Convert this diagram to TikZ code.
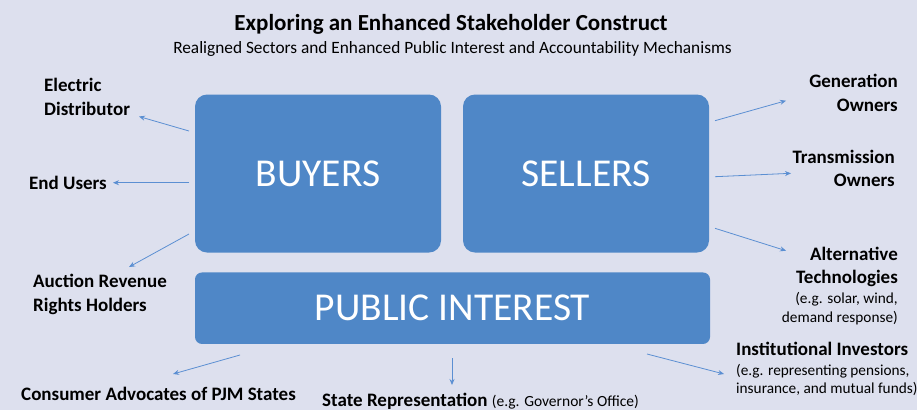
\documentclass[tikz,border=0pt]{standalone}
\usepackage{fontspec}
\setmainfont{Carlito}
\usetikzlibrary{arrows.meta}

\definecolor{bgcol}{HTML}{DDE0EE}
\definecolor{boxcol}{HTML}{4F87C7}
\definecolor{arrcol}{HTML}{5B8FD2}

\tikzset{
    sector/.style={fill=boxcol, text=white, inner sep=0pt, font=\fontsize{39.5}{39.5}\selectfont},
    party/.style={inner sep=0pt, font=\bfseries\fontsize{19}{23.3}\selectfont},
    aside/.style={inner sep=0pt, font=\fontsize{15.3}{19}\selectfont},
    link/.style={draw=arrcol, line width=0.8pt, -{Stealth[length=6pt, width=5pt]}}
}

\begin{document}
\begin{tikzpicture}[x=1pt, y=-1pt]
            \fill[bgcol] (0, 0) rectangle (917, 410);
            \useasboundingbox (0, 0) rectangle (917, 410);
            \node[inner sep=0pt, font=\bfseries\fontsize{23}{23}\selectfont, anchor=base] (title) at (451, 30) {Exploring an Enhanced Stakeholder Construct};
            \node[inner sep=0pt, font=\fontsize{17.3}{17.3}\selectfont, anchor=base] (subtitle) at (452.5, 53) {Realigned Sectors and Enhanced Public Interest and Accountability Mechanisms};
            \node[sector, rounded corners=12pt, minimum width=246, minimum height=158] (buyers) at (318, 173.5) {BUYERS};
            \node[sector, rounded corners=12pt, minimum width=246, minimum height=158] (sellers) at (586, 173.5) {SELLERS};
            \node[sector, rounded corners=7pt, minimum width=515, minimum height=71.5] (public) at (452.5, 308.2) {PUBLIC INTEREST};
            % buyers side (base = last line)
            \node[party, anchor=base west, align=left] (elec) at (44, 115) {Electric\\Distributor};
            \node[party, anchor=base west] (endusers) at (29, 189) {End Users};
            \node[party, anchor=base west, align=left] (auction) at (33, 311) {Auction Revenue\\Rights Holders};
            % sellers side
            \node[party, anchor=base east, align=right] (gen) at (898, 111) {Generation\\Owners};
            \node[party, anchor=base east, align=right] (trans) at (895, 186.5) {Transmission\\Owners};
            \node[party, anchor=base east, align=right] (alt) at (898, 283.5) {Alternative\\Technologies};
            \node[aside, anchor=base east, align=right] (altnote) at (898, 322) {(e.g. solar, wind,\\demand response)};
            % public interest
            \node[party, anchor=base west] (consumer) at (21, 400) {Consumer Advocates of PJM States};
            \node[party, anchor=base west] (state) at (322, 406) {State Representation {\mdseries\fontsize{15.5}{15.5}\selectfont(e.g. Governor’s Office)}};
            \node[party, anchor=base west] (inst) at (736, 355) {Institutional Investors};
            \node[aside, anchor=base west, align=left, font=\fontsize{15.3}{17.5}\selectfont] (instnote) at (736, 393) {(e.g. representing pensions,\\insurance, and mutual funds)};
            % arrows
            \coordinate (b1) at (189, 131);   \coordinate (elecin) at (139, 116.5);
            \coordinate (b2) at (189, 182.7); \coordinate (endin) at (113, 182.7);
            \coordinate (b3) at (189, 234);   \coordinate (aucin) at (129, 267);
            \coordinate (s1) at (715, 120.7); \coordinate (genin) at (786, 100.7);
            \coordinate (s2) at (715, 176.7); \coordinate (transin) at (791, 173.3);
            \coordinate (s3) at (715, 228.3); \coordinate (altin) at (786, 250.7);
            \coordinate (p1) at (240, 355);   \coordinate (conin) at (173, 374);
            \coordinate (p2) at (452, 358);   \coordinate (statein) at (452, 385);
            \coordinate (p3) at (647, 354);   \coordinate (instin) at (724, 374);
            \draw[link] (b1) -- (elecin);
            \draw[link] (b2) -- (endin);
            \draw[link] (b3) -- (aucin);
            \draw[link] (s1) -- (genin);
            \draw[link] (s2) -- (transin);
            \draw[link] (s3) -- (altin);
            \draw[link] (p1) -- (conin);
            \draw[link] (p2) -- (statein);
            \draw[link] (p3) -- (instin);
        \end{tikzpicture}
\end{document}
